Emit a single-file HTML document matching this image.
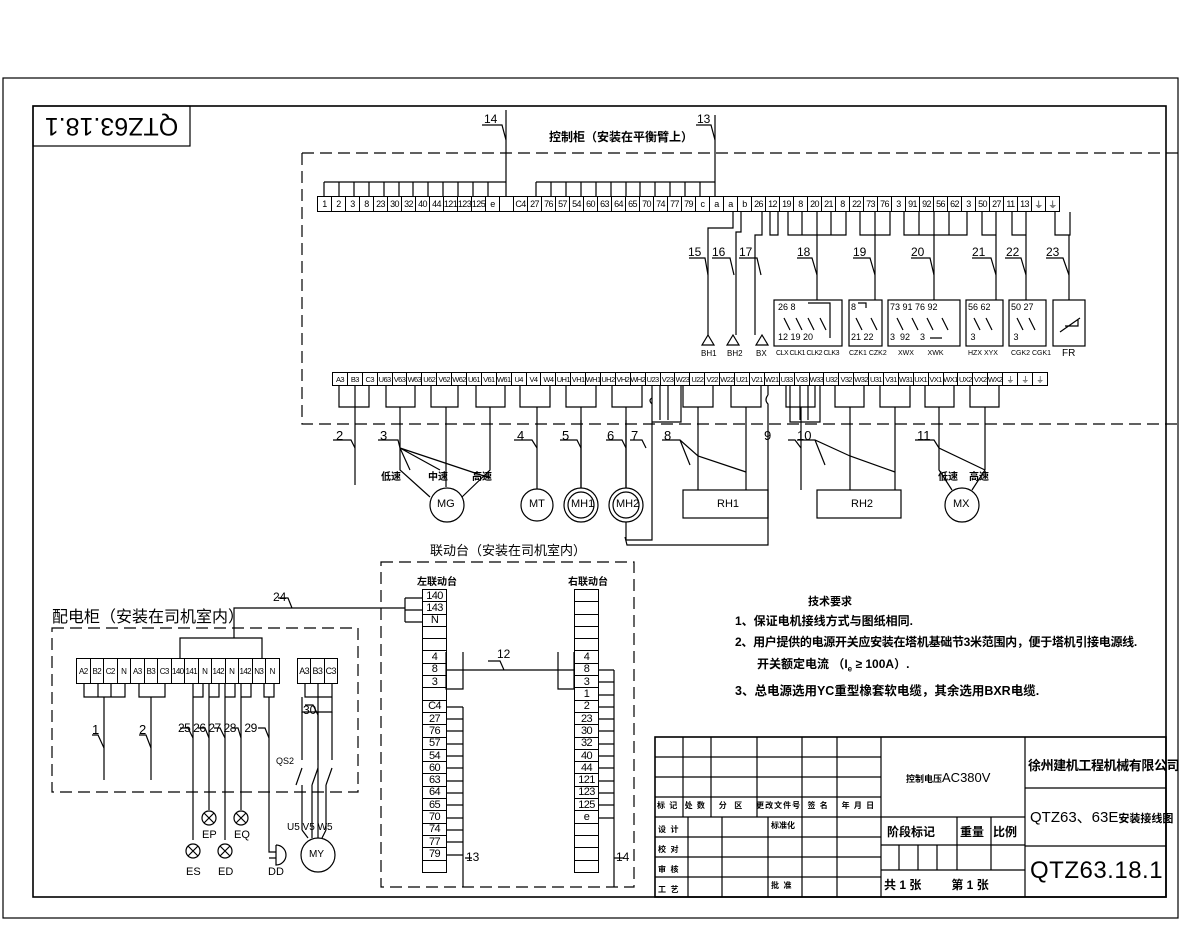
<!DOCTYPE html>
<html><head><meta charset="utf-8"><style>
body{margin:0;background:#fff;width:1200px;height:933px;overflow:hidden;position:relative;font-family:"Liberation Sans","Noto Sans CJK SC",sans-serif}
.s{position:absolute;display:flex;font-family:"Liberation Sans","Noto Sans CJK SC",sans-serif;font-size:9px;letter-spacing:-0.6px;color:#000}
.s span{box-sizing:border-box;border:1px solid #000;margin-left:-1px;text-align:center;overflow:hidden;white-space:nowrap;display:flex;align-items:center;justify-content:center}
.v{flex-direction:column}
.v span{margin-left:0;margin-top:-1px;font-size:11px}
.t{position:absolute;white-space:nowrap;color:#000;font-family:"Liberation Sans","Noto Sans CJK SC",sans-serif}
svg{position:absolute;left:0;top:0}
</style></head><body>
<svg width="1200" height="933" viewBox="0 0 1200 933" fill="none" stroke="#000" stroke-width="1.2">
<rect x="3" y="78" width="1175" height="840"/>
<rect x="33" y="106" width="1133" height="791" stroke-width="1.6"/>
<rect x="33" y="106" width="157" height="40"/>
<path d="M302 153H1178M302 153V424H1178" stroke-dasharray="12 6"/>
<path d="M324 182H506M715 182H536"/>
<path d="M324 182V196M339 182V196M354 182V196M369 182V196M384 182V196M399 182V196M413 182V196M428 182V196M443 182V196M458 182V196M473 182V196M488 182V196M506 110V196M536 182V196M551 182V196M566 182V196M581 182V196M596 182V196M611 182V196M626 182V196M640 182V196M655 182V196M670 182V196M685 182V196M700 182V196M715 115V196"/>
<path d="M482 125H502L506 140M696 125H711L715 140"/>
<path d="M733 212V228H708V335M741 212V232H736V335M762 212V235H755V335M770 212V235H778V212"/>
<path d="M788 212V235H846V212M802 212V235M817 212V235M831 212V235M817 235V300"/>
<path d="M860 212V235H890V212M875 212V235M875 235V300"/>
<path d="M904 212V235H967V212M919 212V235M934 212V235M949 212V235M934 235V300"/>
<path d="M982 212V235H996V212M996 235V300M1012 212V235H1026V212M1026 235V300M1055 212V235H1070V212M1069 235V300"/>
<path d="M689 258H705L708 275M712 258H730L734 275M739 258H757L761 275M797 258H812L817 275M853 258H870L875 275M911 258H930L934 275M972 258H991L996 275M1005 258H1021L1026 275M1046 258H1063L1069 275"/>
<path d="M702 345L708 335L714 345ZM727 345L733 335L739 345ZM756 345L762 335L768 345Z"/>
<rect x="774" y="300" width="68" height="46"/><rect x="849" y="300" width="33" height="46"/>
<rect x="888" y="300" width="72" height="46"/><rect x="966" y="300" width="37" height="46"/>
<rect x="1009" y="300" width="37" height="46"/><rect x="1053" y="300" width="32" height="46"/>
<path d="M1060 332L1080 318M1065 326H1078V320" />
<path d="M784 318L790 330M796 318L802 330M808 318L814 330M820 318L826 330M808 303H830V338M856 318L862 330M871 318L877 330M858 303H866V308M897 318L903 330M912 318L918 330M927 318L933 330M942 318L948 330M930 338H942M974 318L980 330M986 318L992 330M1017 318L1023 330M1029 318L1035 330"/>
<path d="M339 385V407H369V385M355 385V485M386 385V407H415V385M400 407V470L430 497M431 385V407H458V385M446 407V487M476 385V407H505V385M490 407V470L462 497M520 385V407H550V385M537 407V489M566 385V407H596V385M581 407V488M612 385V407H642V385M626 407V488M683 385V407H713V385M698 407V490M731 385V407H761V385M746 407V490M786 385V407H815V385M801 407V490M835 385V407H864V385M850 407V490M880 385V407H910V385M895 407V490M925 385V407H954V385M939 407V470L952 490M970 385V407H999V385M985 407V470L972 490"/>
<path d="M652 385V422H681V385M660 385V420M668 385V420M768 385V395M790 385V422H820V385M800 385V420M808 385V420M652 398Q648 400 652 404V540H626V522M768 395Q764 400 768 404V545H627L625 537M768 420V530"/>
<path d="M333 440H351L355 448M378 440H398L400 448L440 470M400 448L490 478M400 448L410 470M514 440H532L537 448M560 440H577L581 448M606 440H622L626 448M630 440H642L646 448M662 440H680L698 456L746 472M680 440L690 465M788 440H795L801 448M797 440H815L850 456L895 472M815 440L825 465M915 440H934L939 448L985 470"/>
<circle cx="447" cy="505" r="17"/><circle cx="537" cy="505" r="16"/>
<circle cx="581" cy="505" r="17"/><circle cx="581" cy="505" r="13"/>
<circle cx="626" cy="505" r="17"/><circle cx="626" cy="505" r="13"/>
<circle cx="962" cy="505" r="17"/>
<rect x="683" y="490" width="85" height="28"/><rect x="817" y="490" width="84" height="28"/>
<path d="M581 488V420M626 488V420"/>
<path d="M52 628H358V792H52Z" stroke-dasharray="12 6"/>
<path d="M180 658V638H262V658M234 638V608H405M278 598H288L292 608"/>
<path d="M405 598V622M405 598H422M405 610H422M405 622H422"/>
<path d="M84 683V697H125V683M98 683V697M111 683V697M104 697V780M139 683V697H165V683M151 697V780M193 683V697H203V683M193 697V840M209 683V697H219V683M209 697V810M225 683V697H235V683M225 697V840M241 683V697H251V683M241 697V810M264 683V697H274V683M269 697V845M305 683V697H332V683M318 683V838M302 697V712H332V697"/>
<path d="M92 735H98L104 748M139 735H146L151 748M180 728H188L193 738M198 728H205L209 738M214 728H220L225 738M232 728H238L241 738M258 728H265L269 738M305 705H313L318 715"/>
<path d="M302 712V760M318 712V760M332 712V760M302 768L296 785M318 768L312 785M332 768L326 785M302 785V830M312 785V838M326 785V830M302 830L308 838M326 830L322 838"/>
<circle cx="193" cy="851" r="7"/><path d="M188 846L198 856M198 846L188 856"/>
<circle cx="209" cy="818" r="7"/><path d="M204 813L214 823M214 813L204 823"/>
<circle cx="225" cy="851" r="7"/><path d="M220 846L230 856M230 846L220 856"/>
<circle cx="241" cy="818" r="7"/><path d="M236 813L246 823M246 813L236 823"/>
<path d="M269 845V852H276M276 845A10 10 0 0 1 276 865V845M269 858H276"/>
<circle cx="318" cy="855" r="17"/>
<rect x="381" y="562" width="253" height="325" stroke-dasharray="12 6"/>
<path d="M446 652V689H463V652M446 670H574M558 652V689H574V652M488 661H500L504 670"/>
<path d="M446 707H463M446 719H463M446 731H463M446 744H463M446 756H463M446 768H463M446 781H463M446 793H463M446 805H463M446 818H463M446 830H463M446 842H463M446 855H463V707M463 855V887M465 858H472"/>
<path d="M598 670H614M598 682H614M598 695H614M598 707H614M598 719H614M598 731H614M598 744H614M598 756H614M598 768H614M598 781H614M598 793H614M598 805H614M598 818H614M614 670V887M614 858H624"/>
<rect x="655" y="737" width="511" height="160" stroke-width="1.6"/>
<path d="M881 737V897M1025 737V897M655 757H881M655 777H881M655 797H881M655 817H881M655 837H881M655 857H881M655 877H881M683 737V817M711 737V817M757 737V817M802 737V897M837 737V897M688 817V897M722 817V897M768 817V897"/>
<path d="M881 817H1025M881 845H1025M881 870H1025M957 817V870M991 817V870M899 845V870M918 845V870M937 845V870M1025 788H1166M1025 846H1166"/>
</svg>

<div class="t" style="left:33px;top:106px;width:157px;height:40px;line-height:40px;text-align:center;font-size:25px;transform:rotate(180deg);">QTZ63.18.1</div>

<div class="s" style="left:318px;top:196px;height:16px">
<span style="width:15px">1</span><span style="width:15px">2</span><span style="width:15px">3</span><span style="width:15px">8</span><span style="width:15px">23</span><span style="width:15px">30</span><span style="width:15px">32</span><span style="width:15px">40</span><span style="width:15px">44</span><span style="width:15px">121</span><span style="width:15px">123</span><span style="width:15px">125</span><span style="width:15px">e</span><span style="width:15px"></span><span style="width:15px">C4</span><span style="width:15px">27</span><span style="width:15px">76</span><span style="width:15px">57</span><span style="width:15px">54</span><span style="width:15px">60</span><span style="width:15px">63</span><span style="width:15px">64</span><span style="width:15px">65</span><span style="width:15px">70</span><span style="width:15px">74</span><span style="width:15px">77</span><span style="width:15px">79</span><span style="width:15px">c</span><span style="width:15px">a</span><span style="width:15px">a</span><span style="width:15px">b</span><span style="width:15px">26</span><span style="width:15px">12</span><span style="width:15px">19</span><span style="width:15px">8</span><span style="width:15px">20</span><span style="width:15px">21</span><span style="width:15px">8</span><span style="width:15px">22</span><span style="width:15px">73</span><span style="width:15px">76</span><span style="width:15px">3</span><span style="width:15px">91</span><span style="width:15px">92</span><span style="width:15px">56</span><span style="width:15px">62</span><span style="width:15px">3</span><span style="width:15px">50</span><span style="width:15px">27</span><span style="width:15px">11</span><span style="width:15px">13</span><span style="width:15px">⏚</span><span style="width:15px">⏚</span>
</div>

<div class="s" style="left:333px;top:372px;height:14px;font-size:7.5px">
<span style="width:15.9px">A3</span><span style="width:15.9px">B3</span><span style="width:15.9px">C3</span><span style="width:15.9px">U63</span><span style="width:15.9px">V63</span><span style="width:15.9px">W63</span><span style="width:15.9px">U62</span><span style="width:15.9px">V62</span><span style="width:15.9px">W62</span><span style="width:15.9px">U61</span><span style="width:15.9px">V61</span><span style="width:15.9px">W61</span><span style="width:15.9px">U4</span><span style="width:15.9px">V4</span><span style="width:15.9px">W4</span><span style="width:15.9px">UH1</span><span style="width:15.9px">VH1</span><span style="width:15.9px">WH1</span><span style="width:15.9px">UH2</span><span style="width:15.9px">VH2</span><span style="width:15.9px">WH2</span><span style="width:15.9px">U23</span><span style="width:15.9px">V23</span><span style="width:15.9px">W23</span><span style="width:15.9px">U22</span><span style="width:15.9px">V22</span><span style="width:15.9px">W22</span><span style="width:15.9px">U21</span><span style="width:15.9px">V21</span><span style="width:15.9px">W21</span><span style="width:15.9px">U33</span><span style="width:15.9px">V33</span><span style="width:15.9px">W33</span><span style="width:15.9px">U32</span><span style="width:15.9px">V32</span><span style="width:15.9px">W32</span><span style="width:15.9px">U31</span><span style="width:15.9px">V31</span><span style="width:15.9px">W31</span><span style="width:15.9px">UX1</span><span style="width:15.9px">VX1</span><span style="width:15.9px">WX1</span><span style="width:15.9px">UX2</span><span style="width:15.9px">VX2</span><span style="width:15.9px">WX2</span><span style="width:15.9px">⏚</span><span style="width:15.9px">⏚</span><span style="width:15.9px">⏚</span>
</div>

<div class="s" style="left:77px;top:658px;height:26px;font-size:8px">
<span style="width:14.5px">A2</span><span style="width:14.5px">B2</span><span style="width:14.5px">C2</span><span style="width:14.5px">N</span><span style="width:14.5px">A3</span><span style="width:14.5px">B3</span><span style="width:14.5px">C3</span><span style="width:14.5px">140</span><span style="width:14.5px">141</span><span style="width:14.5px">N</span><span style="width:14.5px">142</span><span style="width:14.5px">N</span><span style="width:14.5px">142</span><span style="width:14.5px">N3</span><span style="width:14.5px">N</span>
</div>
<div class="s" style="left:298px;top:658px;height:26px;font-size:9px">
<span style="width:14.3px">A3</span><span style="width:14.3px">B3</span><span style="width:14.3px">C3</span>
</div>

<div class="s v" style="left:422px;top:590px;width:25px">
<span style="height:13.3px">140</span><span style="height:13.3px">143</span><span style="height:13.3px">N</span><span style="height:13.3px"></span><span style="height:13.3px"></span><span style="height:13.3px">4</span><span style="height:13.3px">8</span><span style="height:13.3px">3</span><span style="height:13.3px"></span><span style="height:13.3px">C4</span><span style="height:13.3px">27</span><span style="height:13.3px">76</span><span style="height:13.3px">57</span><span style="height:13.3px">54</span><span style="height:13.3px">60</span><span style="height:13.3px">63</span><span style="height:13.3px">64</span><span style="height:13.3px">65</span><span style="height:13.3px">70</span><span style="height:13.3px">74</span><span style="height:13.3px">77</span><span style="height:13.3px">79</span><span style="height:13.3px"></span>
</div>
<div class="s v" style="left:574px;top:590px;width:25px">
<span style="height:13.3px"></span><span style="height:13.3px"></span><span style="height:13.3px"></span><span style="height:13.3px"></span><span style="height:13.3px"></span><span style="height:13.3px">4</span><span style="height:13.3px">8</span><span style="height:13.3px">3</span><span style="height:13.3px">1</span><span style="height:13.3px">2</span><span style="height:13.3px">23</span><span style="height:13.3px">30</span><span style="height:13.3px">32</span><span style="height:13.3px">40</span><span style="height:13.3px">44</span><span style="height:13.3px">121</span><span style="height:13.3px">123</span><span style="height:13.3px">125</span><span style="height:13.3px">e</span><span style="height:13.3px"></span><span style="height:13.3px"></span><span style="height:13.3px"></span><span style="height:13.3px"></span>
</div>

<div class="t" style="left:484px;top:112px;font-size:12px">14</div>
<div class="t" style="left:697px;top:112px;font-size:12px">13</div>
<div class="t" style="left:549px;top:128px;font-size:12px;font-weight:bold">控制柜（安装在平衡臂上）</div>
<div class="t" style="left:688px;top:245px;font-size:12px">15</div>
<div class="t" style="left:712px;top:245px;font-size:12px">16</div>
<div class="t" style="left:739px;top:245px;font-size:12px">17</div>
<div class="t" style="left:797px;top:245px;font-size:12px">18</div>
<div class="t" style="left:853px;top:245px;font-size:12px">19</div>
<div class="t" style="left:911px;top:245px;font-size:12px">20</div>
<div class="t" style="left:972px;top:245px;font-size:12px">21</div>
<div class="t" style="left:1006px;top:245px;font-size:12px">22</div>
<div class="t" style="left:1046px;top:245px;font-size:12px">23</div>
<div class="t" style="left:778px;top:302px;font-size:9px;line-height:10px">26 8<br><br><br>12 19 20</div>
<div class="t" style="left:851px;top:302px;font-size:9px;line-height:10px">8<br><br><br>21 22</div>
<div class="t" style="left:890px;top:302px;font-size:9px;line-height:10px">73 91 76 92<br><br><br>3&nbsp;&nbsp;92&nbsp;&nbsp;&nbsp;&nbsp;3</div>
<div class="t" style="left:968px;top:302px;font-size:9px;line-height:10px">56 62<br><br><br>&nbsp;3</div>
<div class="t" style="left:1011px;top:302px;font-size:9px;line-height:10px">50 27<br><br><br>&nbsp;3</div>
<div class="t" style="left:701px;top:349px;font-size:8px">BH1</div>
<div class="t" style="left:727px;top:349px;font-size:8px">BH2</div>
<div class="t" style="left:756px;top:349px;font-size:8px">BX</div>
<div class="t" style="left:776px;top:350px;font-size:7px;letter-spacing:-0.5px">CLX CLK1 CLK2 CLK3</div>
<div class="t" style="left:849px;top:350px;font-size:7px">CZK1 CZK2</div>
<div class="t" style="left:898px;top:350px;font-size:7px">XWX&nbsp;&nbsp;&nbsp;&nbsp;&nbsp;&nbsp;&nbsp;XWK</div>
<div class="t" style="left:968px;top:350px;font-size:7px">HZX XYX</div>
<div class="t" style="left:1011px;top:350px;font-size:7px">CGK2 CGK1</div>
<div class="t" style="left:1062px;top:348px;font-size:10px">FR</div>
<div class="t" style="left:336px;top:428px;font-size:13px">2</div>
<div class="t" style="left:380px;top:428px;font-size:13px">3</div>
<div class="t" style="left:517px;top:428px;font-size:13px">4</div>
<div class="t" style="left:562px;top:428px;font-size:13px">5</div>
<div class="t" style="left:607px;top:428px;font-size:13px">6</div>
<div class="t" style="left:631px;top:428px;font-size:13px">7</div>
<div class="t" style="left:664px;top:428px;font-size:13px">8</div>
<div class="t" style="left:764px;top:428px;font-size:13px">9</div>
<div class="t" style="left:797px;top:428px;font-size:13px">10</div>
<div class="t" style="left:917px;top:428px;font-size:13px">11</div>
<div class="t" style="left:381px;top:468px;font-size:10px;font-weight:bold">低速</div>
<div class="t" style="left:428px;top:468px;font-size:10px;font-weight:bold">中速</div>
<div class="t" style="left:472px;top:468px;font-size:10px;font-weight:bold">高速</div>
<div class="t" style="left:938px;top:468px;font-size:10px;font-weight:bold">低速</div>
<div class="t" style="left:969px;top:468px;font-size:10px;font-weight:bold">高速</div>
<div class="t" style="left:437px;top:498px;font-size:11px">MG</div>
<div class="t" style="left:529px;top:498px;font-size:11px">MT</div>
<div class="t" style="left:571px;top:498px;font-size:11px">MH1</div>
<div class="t" style="left:616px;top:498px;font-size:11px">MH2</div>
<div class="t" style="left:717px;top:498px;font-size:11px">RH1</div>
<div class="t" style="left:851px;top:498px;font-size:11px">RH2</div>
<div class="t" style="left:953px;top:498px;font-size:11px">MX</div>
<div class="t" style="left:430px;top:540px;font-size:13px">联动台（安装在司机室内）</div>
<div class="t" style="left:52px;top:603px;font-size:16px">配电柜（安装在司机室内）</div>
<div class="t" style="left:273px;top:590px;font-size:12px">24</div>
<div class="t" style="left:417px;top:573px;font-size:10px;font-weight:bold">左联动台</div>
<div class="t" style="left:568px;top:573px;font-size:10px;font-weight:bold">右联动台</div>
<div class="t" style="left:497px;top:647px;font-size:12px">12</div>
<div class="t" style="left:466px;top:850px;font-size:12px">13</div>
<div class="t" style="left:616px;top:850px;font-size:12px">14</div>
<div class="t" style="left:92px;top:722px;font-size:13px">1</div>
<div class="t" style="left:139px;top:722px;font-size:13px">2</div>
<div class="t" style="left:178px;top:721px;font-size:12px;letter-spacing:-0.5px">25 26 27 28&nbsp;&nbsp;&nbsp;29</div>
<div class="t" style="left:303px;top:703px;font-size:12px">30</div>
<div class="t" style="left:276px;top:756px;font-size:9px">QS2</div>
<div class="t" style="left:287px;top:822px;font-size:10px">U5 V5 W5</div>
<div class="t" style="left:309px;top:849px;font-size:10px">MY</div>
<div class="t" style="left:186px;top:866px;font-size:11px">ES</div>
<div class="t" style="left:202px;top:829px;font-size:11px">EP</div>
<div class="t" style="left:218px;top:866px;font-size:11px">ED</div>
<div class="t" style="left:234px;top:829px;font-size:11px">EQ</div>
<div class="t" style="left:268px;top:866px;font-size:11px">DD</div>
<div class="t" style="left:808px;top:593px;font-size:11px;font-weight:bold">技术要求</div>
<div class="t" style="left:735px;top:612px;font-size:12px;font-weight:bold">1、保证电机接线方式与图纸相同.</div>
<div class="t" style="left:735px;top:633px;font-size:12px;font-weight:bold;letter-spacing:-0.3px">2、用户提供的电源开关应安装在塔机基础节3米范围内，便于塔机引接电源线.</div>
<div class="t" style="left:757px;top:655px;font-size:12px;font-weight:bold">开关额定电流 （I<sub style="font-size:8px">e</sub> ≥ 100A）.</div>
<div class="t" style="left:735px;top:680px;font-size:12.5px;font-weight:bold">3、总电源选用YC重型橡套软电缆，其余选用BXR电缆.</div>
<div class="t" style="left:657px;top:800px;font-size:8px;font-weight:bold;letter-spacing:1px">标 记&nbsp;&nbsp;处 数&nbsp;&nbsp;&nbsp;&nbsp;分&nbsp;&nbsp;区&nbsp;&nbsp;&nbsp;&nbsp;更改文件号&nbsp;&nbsp;签 名&nbsp;&nbsp;&nbsp;&nbsp;年 月 日</div>
<div class="t" style="left:658px;top:820px;font-size:8px;font-weight:bold;line-height:20px">设&nbsp;&nbsp;计<br>校&nbsp;&nbsp;对<br>审&nbsp;&nbsp;核<br>工&nbsp;&nbsp;艺</div>
<div class="t" style="left:771px;top:820px;font-size:8px;font-weight:bold">标准化</div>
<div class="t" style="left:771px;top:880px;font-size:8px;font-weight:bold">批&nbsp;&nbsp;准</div>
<div class="t" style="left:906px;top:770px;font-size:13px"><b style="font-size:9px">控制电压</b>AC380V</div>
<div class="t" style="left:887px;top:823px;font-size:12px;font-weight:bold">阶段标记</div>
<div class="t" style="left:960px;top:823px;font-size:12px;font-weight:bold">重量</div>
<div class="t" style="left:993px;top:823px;font-size:12px;font-weight:bold">比例</div>
<div class="t" style="left:884px;top:876px;font-size:12px;font-weight:bold">共 1 张&nbsp;&nbsp;&nbsp;&nbsp;&nbsp;&nbsp;&nbsp;&nbsp;&nbsp;第 1 张</div>
<div class="t" style="left:1028px;top:755px;font-size:13px;font-weight:bold;letter-spacing:-0.4px">徐州建机工程机械有限公司</div>
<div class="t" style="left:1030px;top:806px;font-size:15px">QTZ63、63E<span style="font-size:11px;font-weight:bold">安装接线图</span></div>
<div class="t" style="left:1030px;top:857px;font-size:24px;letter-spacing:0.5px">QTZ63.18.1</div>
</body></html>
